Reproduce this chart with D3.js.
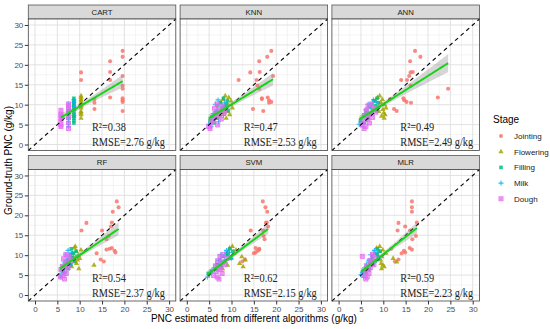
<!DOCTYPE html>
<html>
<head>
<meta charset="utf-8">
<script src="https://cdn.jsdelivr.net/npm/d3@7"></script>
<style>
  body { margin: 0; background: #fff; }
  svg { display: block; }
</style>
</head>
<body>
<svg id="chart" width="550" height="329"></svg>
<script>
// ---- data ----
const stages = ['Jointing', 'Flowering', 'Filling', 'Milk', 'Dough'];
const stageColors = ['#F8766D', '#A3A500', '#00BF7D', '#00B0F6', '#E76BF3'];
const models = ['CART', 'KNN', 'ANN', 'RF', 'SVM', 'MLR'];
const r2Labels = ['0.38', '0.47', '0.49', '0.54', '0.62', '0.59'];
const rmseLabels = ['2.76', '2.53', '2.49', '2.37', '2.15', '2.23'];
const axisTicks = [0, 5, 10, 15, 20, 25, 30];

// ground-truth PNC (g/kg), one array per stage (same samples in every panel)
const truthJointing = [23.5, 22.0, 20.9, 18.1, 18.2, 17.2, 16.2, 16.2, 14.8, 14.0, 11.8, 11.6, 11.4, 11.1, 10.7, 10.5, 8.9, 8.4];
const truthFlowering = [12.2, 11.8, 11.3, 10.9, 10.5, 10.0, 9.6, 9.2, 8.8, 8.3, 7.9, 7.5, 7.1, 6.6];
const truthFilling = [11.6, 11.0, 10.5, 10.1, 9.7, 9.3, 8.9, 8.5, 8.1, 7.6, 7.1, 6.6, 6.0, 5.4];
const truthMilk = [11.2, 10.6, 10.1, 9.6, 9.2, 8.7, 8.3, 7.8, 7.3, 6.8, 6.3, 5.7, 5.1, 4.5];
const truthDough = [10.2, 9.7, 9.1, 8.6, 8.1, 7.6, 7.2, 6.8, 6.4, 5.9, 5.4, 4.9, 4.5, 4.0];
const truthByStage = [truthJointing, truthFlowering, truthFilling, truthMilk, truthDough];

// estimated PNC per algorithm: [jointing, flowering, filling, milk, dough]
const predCART = [
  [19.6, 19.6, 16.8, 10.3, 16.8, 19.6, 10.3, 16.8, 19.6, 19.6, 16.8, 19.6, 13.3, 19.6, 19.6, 13.3, 13.3, 19.6],
  [10.3, 10.3, 10.3, 10.3, 10.3, 10.3, 10.3, 10.3, 8.7, 10.3, 10.3, 10.3, 8.7, 10.3],
  [8.7, 8.7, 8.7, 8.7, 8.7, 8.7, 8.7, 7.5, 8.7, 8.7, 8.7, 8.7, 8.7, 8.7],
  [8.7, 8.7, 7.5, 8.7, 7.5, 8.7, 7.5, 7.5, 8.7, 7.5, 7.5, 7.5, 7.5, 7.5],
  [7.5, 7.5, 7.5, 5.8, 7.5, 5.8, 5.8, 7.5, 5.8, 5.8, 7.5, 5.8, 5.8, 7.5]
];
const predKNN = [
  [18.9, 18.0, 16.2, 14.2, 16.3, 19.3, 11.6, 15.6, 15.8, 16.2, 18.1, 16.8, 16.8, 18.4, 18.9, 18.4, 14.8, 17.1],
  [8.6, 9.4, 8.1, 9.9, 7.6, 9.2, 8.4, 10.2, 7.9, 9.0, 8.3, 9.6, 7.4, 8.8],
  [8.2, 9.1, 7.5, 8.8, 6.9, 8.4, 7.8, 9.3, 6.5, 7.2, 5.9, 6.8, 5.2, 6.1],
  [7.0, 8.5, 6.4, 7.9, 8.9, 6.8, 7.6, 5.9, 8.2, 6.2, 5.6, 7.1, 4.9, 5.4],
  [6.8, 7.9, 6.2, 7.4, 8.4, 6.6, 7.0, 5.8, 7.7, 6.0, 5.5, 6.9, 4.9, 5.2]
];
const predANN = [
  [17.1, 18.3, 16.0, 16.1, 16.6, 15.8, 15.3, 14.0, 16.1, 24.5, 22.2, 14.5, 11.5, 14.7, 15.2, 16.2, 12.4, 13.0],
  [9.2, 8.7, 9.8, 8.2, 9.5, 10.3, 8.9, 10.6, 9.9, 9.0, 10.1, 10.4, 9.6, 10.2],
  [8.6, 7.9, 8.9, 7.4, 8.2, 6.8, 7.6, 8.5, 6.3, 7.1, 5.6, 6.6, 4.9, 5.8],
  [7.8, 8.4, 6.6, 7.2, 8.8, 6.1, 7.5, 5.8, 6.9, 5.3, 6.3, 5.0, 4.6, 5.5],
  [7.3, 6.6, 7.9, 6.2, 8.3, 7.0, 5.9, 7.6, 6.5, 5.6, 6.9, 5.2, 6.1, 5.7]
];
const predRF = [
  [18.3, 18.7, 17.4, 11.5, 17.2, 17.0, 10.4, 15.0, 16.5, 16.0, 17.2, 16.7, 16.0, 17.8, 18.0, 13.8, 14.7, 15.4],
  [9.0, 8.8, 10.3, 9.2, 8.4, 9.7, 8.6, 10.0, 9.5, 8.9, 9.3, 13.2, 8.2, 9.8],
  [8.1, 9.2, 8.6, 7.9, 9.4, 8.3, 7.5, 8.8, 7.2, 8.0, 6.9, 7.4, 6.2, 6.6],
  [7.4, 8.1, 6.9, 7.7, 8.5, 7.1, 6.5, 7.9, 6.8, 6.2, 5.9, 6.6, 5.6, 5.8],
  [6.9, 7.6, 6.4, 8.1, 7.2, 6.8, 6.1, 7.4, 5.8, 6.5, 7.0, 6.3, 5.7, 6.6]
];
const predSVM = [
  [17.0, 17.6, 18.0, 17.7, 17.9, 18.2, 14.3, 17.1, 17.2, 17.4, 15.4, 16.2, 16.2, 15.9, 15.4, 15.0, 13.0, 12.4],
  [10.2, 9.6, 11.0, 9.3, 10.6, 8.8, 12.3, 9.9, 13.1, 8.5, 11.8, 9.1, 12.6, 8.0],
  [9.6, 10.3, 8.8, 9.2, 7.9, 9.8, 7.4, 8.5, 8.1, 6.9, 7.6, 6.3, 5.5, 4.8],
  [8.9, 9.5, 7.6, 8.4, 9.9, 7.1, 8.0, 6.5, 7.3, 6.0, 6.8, 5.4, 5.1, 4.6],
  [8.2, 7.4, 9.0, 6.9, 7.8, 8.5, 6.4, 7.1, 7.6, 6.6, 7.9, 6.0, 6.8, 7.2]
];
const predMLR = [
  [16.4, 16.4, 16.4, 13.4, 17.5, 14.9, 13.2, 16.0, 17.3, 16.5, 15.9, 11.8, 16.4, 14.6, 14.9, 14.1, 13.4, 12.6],
  [9.2, 8.5, 9.9, 9.0, 10.6, 8.8, 9.7, 12.2, 9.4, 13.0, 9.5, 9.9, 10.2, 9.6],
  [8.7, 9.3, 8.0, 8.6, 7.6, 8.9, 7.4, 8.2, 7.0, 7.7, 6.4, 6.9, 5.5, 6.1],
  [8.0, 8.6, 7.2, 7.7, 8.9, 6.8, 7.5, 6.2, 7.0, 5.8, 6.5, 5.3, 5.0, 5.6],
  [7.6, 5.3, 8.1, 6.9, 7.4, 7.9, 6.3, 7.1, 6.6, 6.0, 6.8, 5.8, 6.4, 6.1]
];
const predByModel = [predCART, predKNN, predANN, predRF, predSVM, predMLR];

// ---- layout ----
const sansFont = "'Liberation Sans', Arial, sans-serif";
const serifFont = "'Liberation Serif', 'Times New Roman', serif";
const panelW = 147.5, panelH = 131.5, stripH = 14, gapX = 4.3, gapY = 5;
const left0 = 28.3, top0 = 5;
const domain = [-1.5, 31.5];
const tCrit = 1.99;

const svg = d3.select('#chart');
svg.append('rect').attr('width', 550).attr('height', 329).attr('fill', '#fff');

const x = d3.scaleLinear().domain(domain).range([0, panelW]);
const y = d3.scaleLinear().domain(domain).range([panelH, 0]);
const minorBreaks = [2.5, 7.5, 12.5, 17.5, 22.5, 27.5];

function shapePath(s) {
  if (s === 0) return d3.symbol(d3.symbolCircle, 13)();
  if (s === 1) return d3.symbol(d3.symbolTriangle, 12)();
  if (s === 2) return d3.symbol(d3.symbolSquare, 13)();
  if (s === 3) return 'M-2.5,0H2.5M0,-2.5V2.5';
  return 'M-2,-2H2V2H-2ZM-2,-2L2,2M2,-2L-2,2';
}
function styleShape(sel, s) {
  const c = stageColors[s];
  if (s <= 2) sel.attr('fill', c).attr('stroke', 'none');
  else if (s === 3) sel.attr('fill', 'none').attr('stroke', c).attr('stroke-width', 1.1);
  else sel.attr('fill', c).attr('fill-opacity', 0.55).attr('stroke', c).attr('stroke-width', 1);
}

models.forEach((m, i) => {
  const col = i % 3, row = Math.floor(i / 3);
  const px = left0 + col * (panelW + gapX);
  const py = top0 + row * (stripH + panelH + gapY) + stripH;
  const g = svg.append('g').attr('transform', `translate(${px},${py})`);

  // strip
  g.append('rect').attr('x', 0).attr('y', -stripH).attr('width', panelW).attr('height', stripH)
    .attr('fill', '#D9D9D9').attr('stroke', '#555').attr('stroke-width', 0.8);
  g.append('text').attr('x', panelW / 2).attr('y', -stripH / 2 + 2.8)
    .attr('text-anchor', 'middle').attr('font-family', sansFont).attr('font-size', 7.8)
    .attr('fill', '#1A1A1A').text(m);

  // grid
  g.append('rect').attr('width', panelW).attr('height', panelH).attr('fill', '#fff');
  const grid = g.append('g');
  minorBreaks.forEach(v => {
    grid.append('line').attr('x1', x(v)).attr('x2', x(v)).attr('y1', 0).attr('y2', panelH)
      .attr('stroke', '#EDEDED').attr('stroke-width', 0.6);
    grid.append('line').attr('y1', y(v)).attr('y2', y(v)).attr('x1', 0).attr('x2', panelW)
      .attr('stroke', '#EDEDED').attr('stroke-width', 0.6);
  });
  axisTicks.forEach(v => {
    grid.append('line').attr('x1', x(v)).attr('x2', x(v)).attr('y1', 0).attr('y2', panelH)
      .attr('stroke', '#DFDFDF').attr('stroke-width', 0.9);
    grid.append('line').attr('y1', y(v)).attr('y2', y(v)).attr('x1', 0).attr('x2', panelW)
      .attr('stroke', '#DFDFDF').attr('stroke-width', 0.9);
  });

  // points
  const pred = predByModel[i];
  const allX = [], allY = [];
  stages.forEach((st, s) => {
    const pts = pred[s].map((v, j) => [v, truthByStage[s][j]]);
    pts.forEach(p => { allX.push(p[0]); allY.push(p[1]); });
    const sel = g.append('g').selectAll('path').data(pts).enter().append('path')
      .attr('d', shapePath(s))
      .attr('transform', d => `translate(${x(d[0])},${y(d[1])})`)
      .attr('opacity', 0.85);
    styleShape(sel, s);
  });

  // 1:1 line
  g.append('line').attr('x1', x(domain[0])).attr('y1', y(domain[0]))
    .attr('x2', x(domain[1])).attr('y2', y(domain[1]))
    .attr('stroke', '#000').attr('stroke-width', 1.1).attr('stroke-dasharray', '4,3.5');

  // lm fit with 95% band
  const n = allX.length;
  const mx = d3.mean(allX), my = d3.mean(allY);
  let sxx = 0, sxy = 0;
  allX.forEach((v, k) => { sxx += (v - mx) ** 2; sxy += (v - mx) * (allY[k] - my); });
  const b = sxy / sxx, a = my - b * mx;
  let sse = 0;
  allX.forEach((v, k) => { sse += (allY[k] - (a + b * v)) ** 2; });
  const sd = Math.sqrt(sse / (n - 2));
  const [x0, x1] = d3.extent(allX);
  const grid80 = d3.range(81).map(k => x0 + (x1 - x0) * k / 80).map(v => {
    const se = sd * Math.sqrt(1 / n + (v - mx) ** 2 / sxx);
    const f = a + b * v;
    return { v, f, lo: f - tCrit * se, hi: f + tCrit * se };
  });
  g.append('path').datum(grid80)
    .attr('d', d3.area().x(d => x(d.v)).y0(d => y(d.lo)).y1(d => y(d.hi)))
    .attr('fill', '#999').attr('opacity', 0.4);
  g.append('path').datum(grid80)
    .attr('d', d3.line().x(d => x(d.v)).y(d => y(d.f)))
    .attr('fill', 'none').attr('stroke', '#14D414').attr('stroke-width', 1.9);

  // annotation
  const tx = col === 2 ? 13.8 : 12.75;
  [['R\u00B2=' + r2Labels[i], 3.3], ['RMSE=' + rmseLabels[i] + ' g/kg', -0.45]].forEach(([txt, ty]) => {
    const t = g.append('text').attr('x', x(tx)).attr('y', y(ty))
      .attr('font-family', serifFont).attr('font-size', 12).attr('fill', '#222').text(txt);
    const w = t.node().getComputedTextLength();
    t.attr('textLength', w * 0.86).attr('lengthAdjust', 'spacingAndGlyphs');
  });

  // border
  g.append('rect').attr('width', panelW).attr('height', panelH)
    .attr('fill', 'none').attr('stroke', '#444').attr('stroke-width', 0.8);

  // axes
  if (col === 0) {
    const ay = g.append('g').call(d3.axisLeft(y).tickValues(axisTicks).tickSize(3.5).tickPadding(1.5));
    ay.select('.domain').remove();
    ay.selectAll('line').attr('stroke', '#333');
    ay.selectAll('text').attr('font-family', sansFont).attr('font-size', 8).attr('fill', '#4D4D4D');
  }
  if (row === 1) {
    const ax = g.append('g').attr('transform', `translate(0,${panelH})`)
      .call(d3.axisBottom(x).tickValues(axisTicks).tickSize(3.5).tickPadding(1.5));
    ax.select('.domain').remove();
    ax.selectAll('line').attr('stroke', '#333');
    ax.selectAll('text').attr('font-family', sansFont).attr('font-size', 8).attr('fill', '#4D4D4D');
  }
});

// axis titles
svg.append('text').attr('x', 253.9).attr('y', 321.5).attr('text-anchor', 'middle')
  .attr('font-family', sansFont).attr('font-size', 10).attr('fill', '#000')
  .text('PNC estimated from different algorithms (g/kg)');
svg.append('text').attr('transform', 'translate(11.5,160.5) rotate(-90)').attr('text-anchor', 'middle')
  .attr('font-family', sansFont).attr('font-size', 10).attr('fill', '#000')
  .text('Ground-truth PNC (g/kg)');

// legend
const lg = svg.append('g').attr('transform', 'translate(493,0)');
lg.append('text').attr('x', 0).attr('y', 122.5).attr('font-family', sansFont)
  .attr('font-size', 10).attr('fill', '#000').text('Stage');
stages.forEach((st, s) => {
  const cy = 136 + s * 15.7;
  const p = lg.append('path').attr('d', shapePath(s)).attr('transform', `translate(8,${cy})`).attr('opacity', 0.85);
  styleShape(p, s);
  lg.append('text').attr('x', 21).attr('y', cy + 2.9).attr('font-family', sansFont)
    .attr('font-size', 8).attr('fill', '#1A1A1A').text(st);
});
</script>
</body>
</html>
